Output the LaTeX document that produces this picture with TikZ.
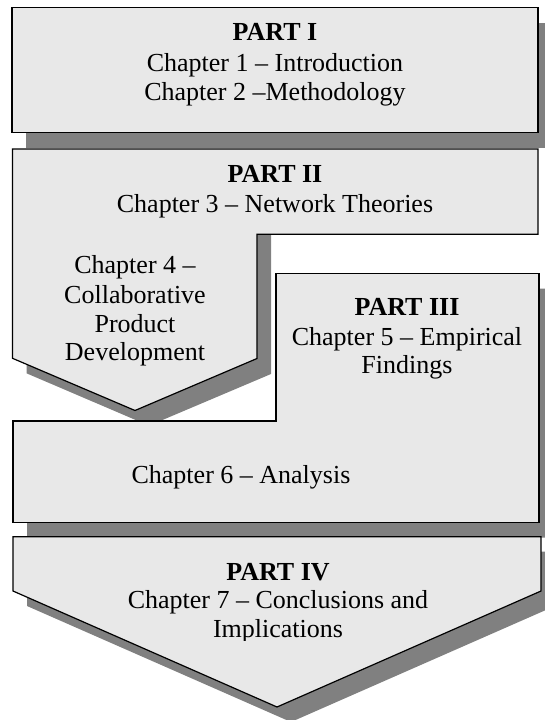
\documentclass[tikz,border=0pt]{standalone}
\usepackage{fontspec}
\setmainfont{Liberation Serif}
\definecolor{boxfill}{HTML}{E8E8E8}
\definecolor{shade}{HTML}{808080}
\begin{document}
\begin{tikzpicture}[x=1pt,y=-1pt,
  partshape/.style={fill=boxfill,draw=black,line width=1.2pt,line join=miter},
  partshadow/.style={fill=shade},
  lbl/.style={font=\fontsize{26}{29}\selectfont,anchor=base,inner sep=0pt},
  blbl/.style={font=\fontsize{26}{29}\selectfont\bfseries,anchor=base,inner sep=0pt}]
\useasboundingbox (0,0) rectangle (545,720);
\clip (0,0) rectangle (545,720);
% Part I
\fill[partshadow,shift={(14,15)}] (12,7.5) rectangle (538,132.5);
\draw[partshape] (12,7.5) rectangle (538,132.5);
% Part II
\fill[partshadow] (26.5,234) -- (271,234) -- (271,374) -- (149,425.7) -- (26.5,373.3) -- cycle;
\draw[partshape] (12.5,149) -- (538,149) -- (538,234.3) -- (257,234.3) -- (257,358.5) -- (135,410.5) -- (12.5,358.3) -- cycle;
% Part III
\fill[partshadow,shift={(14,15)}] (276,273.5) -- (539,273.5) -- (539,522.5) -- (13,522.5) -- (13,421) -- (276,421) -- cycle;
\draw[partshape] (276,273.5) -- (539,273.5) -- (539,522.5) -- (13,522.5) -- (13,421) -- (276,421) -- cycle;
% Part IV
\fill[partshadow,shift={(14,15)}] (13,536.7) -- (541,536.7) -- (541,591) -- (277,707) -- (13,591) -- cycle;
\draw[partshape] (13,536.7) -- (541,536.7) -- (541,591) -- (277,707) -- (13,591) -- cycle;
% texts
\node[blbl] (p1) at (275,40) {PART I};
\node[lbl] (c1) at (275,71.5) {Chapter 1 – Introduction};
\node[lbl] (c2) at (275,100) {Chapter 2 –Methodology};
\node[blbl] (p2) at (275,182.5) {PART II};
\node[lbl] (c3) at (275,212.5) {Chapter 3 – Network Theories};
\node[lbl] (c4a) at (135,273) {Chapter 4 –};
\node[lbl] (c4b) at (135,303) {Collaborative};
\node[lbl] (c4c) at (135,332) {Product};
\node[lbl] (c4d) at (135,360) {Development};
\node[blbl] (p3) at (407,315) {PART III};
\node[lbl] (c5a) at (407,345.5) {Chapter 5 – Empirical};
\node[lbl] (c5b) at (407,373) {Findings};
\node[lbl] (c6) at (241,483) {Chapter 6 – Analysis};
\node[blbl] (p4) at (278,580) {PART IV};
\node[lbl] (c7a) at (278,608) {Chapter 7 – Conclusions and};
\begin{scope}
\clip (0,0) rectangle (545,640.5);
\node[lbl] (c7b) at (278,637) {Implications};
\end{scope}
\end{tikzpicture}
\end{document}
